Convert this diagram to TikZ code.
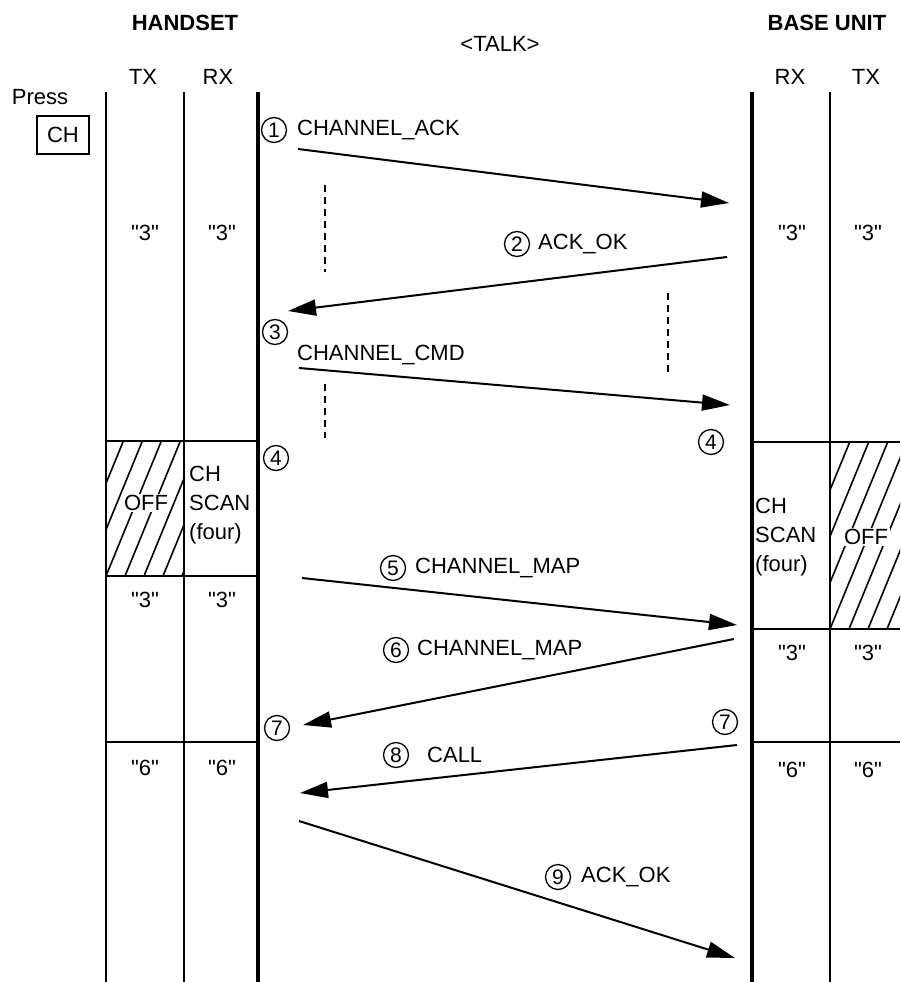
\documentclass[tikz,border=0pt]{standalone}
\usepackage{fontspec}
\setmainfont{Liberation Sans}
\usetikzlibrary{arrows.meta}
\newcommand\qq[1]{\textquotedbl#1\textquotedbl}
\begin{document}
\begin{tikzpicture}[x=1pt,y=-1pt,
  every node/.style={font=\fontsize{22}{29}\selectfont, inner sep=0pt},
  lane/.style={line width=2pt},
  mainlane/.style={line width=4pt},
  msg/.style={line width=2pt, -{Triangle[length=28pt,width=16pt]}},
  guide/.style={line width=2pt, dash pattern=on 7pt off 5pt},
  hatchline/.style={line width=1.6pt},
  lbl/.style={anchor=west},
  cnum/.style={circle, draw, line width=1.3pt, minimum size=25pt, inner sep=0pt, font=\fontsize{21}{21}\selectfont},
  head/.style={font=\bfseries\fontsize{22}{29}\selectfont},
  offlbl/.style={fill=white, inner sep=1.5pt}
]
\useasboundingbox (0,0) rectangle (900,982);

% headers
\node[head] (hs) at (185,23) {HANDSET};
\node[head] (bu) at (827,23) {BASE UNIT};
\node (talk) at (500,44) {<TALK>};
\node (htx) at (143,77) {TX};
\node (hrx) at (218,77) {RX};
\node (brx) at (790,77) {RX};
\node (btx) at (866,77) {TX};
\node (press) at (40,97) {Press};
\node[draw, line width=1.5pt, minimum width=52pt, minimum height=38pt] (chkey) at (63,135) {CH};

% hatched OFF boxes
\begin{scope}
\clip (106,441) rectangle (184,576);
\foreach \i in {-8,...,6} \draw[hatchline] (106+\i*19,576) -- ++(80,-195);
\end{scope}
\begin{scope}
\clip (830,442) rectangle (900,629);
\foreach \i in {-10,...,6} \draw[hatchline] (830+\i*19,629) -- ++(80,-195);
\end{scope}
\node[offlbl] (hoff) at (146,503) {OFF};
\node[offlbl] (boff) at (866,537) {OFF};

% lanes
\coordinate (l1t) at (106,92); \coordinate (l1b) at (106,982);
\coordinate (l2t) at (184,92); \coordinate (l2b) at (184,982);
\coordinate (l3t) at (258,92); \coordinate (l3b) at (258,982);
\coordinate (r1t) at (752,92); \coordinate (r1b) at (752,982);
\coordinate (r2t) at (830,92); \coordinate (r2b) at (830,982);
\draw[lane] (l1t) -- (l1b);
\draw[lane] (l2t) -- (l2b);
\draw[mainlane] (l3t) -- (l3b);
\draw[mainlane] (r1t) -- (r1b);
\draw[lane] (r2t) -- (r2b);

% horizontal separators
\draw[lane] (106,441) -- (258,441);
\draw[lane] (106,576) -- (258,576);
\draw[lane] (106,742) -- (258,742);
\draw[lane] (752,442) -- (900,442);
\draw[lane] (752,629) -- (900,629);
\draw[lane] (752,742) -- (900,742);

% state labels
\node (a1) at (145,233) {\qq{3}};
\node (a2) at (222,233) {\qq{3}};
\node (a3) at (792,233) {\qq{3}};
\node (a4) at (868,233) {\qq{3}};
\node (b1) at (145,600) {\qq{3}};
\node (b2) at (222,600) {\qq{3}};
\node (b3) at (792,653) {\qq{3}};
\node (b4) at (868,653) {\qq{3}};
\node (c1) at (145,768) {\qq{6}};
\node (c2) at (222,768) {\qq{6}};
\node (c3) at (792,770) {\qq{6}};
\node (c4) at (868,770) {\qq{6}};
\node[anchor=west, align=left] (hscan) at (189,505) {CH\\SCAN\\(four)};
\node[anchor=west, align=left] (bscan) at (755,537) {CH\\SCAN\\(four)};

% guides
\draw[guide] (325,185) -- (325,272);
\draw[guide] (668,293) -- (668,373);
\draw[guide] (325,384) -- (325,438);

% step numbers
\node[cnum] (n1) at (274,130) {1};
\node[cnum] (n2) at (517,244) {2};
\node[cnum] (n3) at (275,332) {3};
\node[cnum] (n4l) at (276,458) {4};
\node[cnum] (n4r) at (711,442) {4};
\node[cnum] (n5) at (393,568) {5};
\node[cnum] (n6) at (396,650) {6};
\node[cnum] (n7l) at (277,728) {7};
\node[cnum] (n7r) at (725,722) {7};
\node[cnum] (n8) at (396,755) {8};
\node[cnum] (n9) at (558,877) {9};

% message labels
\node[lbl] (m1) at (297,130) {CHANNEL\_ACK};
\node[lbl] (m2) at (538,244) {ACK\_OK};
\node[lbl] (m3) at (297,355) {CHANNEL\_CMD};
\node[lbl] (m5) at (415,568) {CHANNEL\_MAP};
\node[lbl] (m6) at (417,650) {CHANNEL\_MAP};
\node[lbl] (m8) at (427,755) {CALL};
\node[lbl] (m9) at (581,877) {ACK\_OK};

% arrows
\coordinate (s1) at (298,149); \coordinate (e1) at (729,203);
\coordinate (s2) at (727,257); \coordinate (e2) at (288,311);
\coordinate (s3) at (299,368); \coordinate (e3) at (730,405);
\coordinate (s5) at (302,578); \coordinate (e5) at (737,625);
\coordinate (s6) at (734,639); \coordinate (e6) at (303,725);
\coordinate (s8) at (737,745); \coordinate (e8) at (300,793);
\coordinate (s9) at (299,821); \coordinate (e9) at (735,958);
\draw[msg] (s1) -- (e1);
\draw[msg] (s2) -- (e2);
\draw[msg] (s3) -- (e3);
\draw[msg] (s5) -- (e5);
\draw[msg] (s6) -- (e6);
\draw[msg] (s8) -- (e8);
\draw[msg] (s9) -- (e9);
\end{tikzpicture}
\end{document}
